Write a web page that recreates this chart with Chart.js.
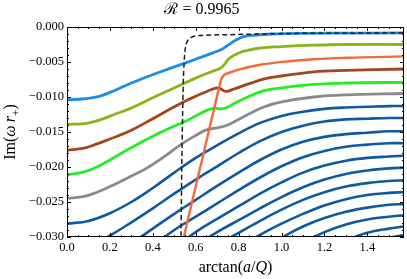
<!DOCTYPE html>
<html lang="en">
<head>
<meta charset="UTF-8">
<title>R = 0.9965</title>
<script src="https://cdn.jsdelivr.net/npm/chart.js"></script>
<style>
  html, body { margin: 0; padding: 0; background: #fff; }
</style>
</head>
<body>
<canvas id="qnm" width="407" height="279"></canvas>
<script>
// values (x = arctan(a/Q), y = Im(w r+))
const blueX = [0, 0.08, 0.15, 0.22, 0.30, 0.40, 0.50, 0.60, 0.68, 0.72, 0.75, 0.78, 0.82, 0.88, 0.95, 1.10, 1.30, 1.5708];
const blueY = [-0.0104, -0.01025, -0.0099, -0.0091, -0.0080, -0.0068, -0.0057, -0.0046, -0.0037, -0.0032, -0.0026, -0.0020, -0.0014, -0.00115, -0.0010, -0.0009, -0.00088, -0.00085];

const limeX = [0, 0.08, 0.15, 0.22, 0.29, 0.40, 0.50, 0.60, 0.68, 0.715, 0.735, 0.752, 0.775, 0.82, 0.90, 1.00, 1.15, 1.30, 1.5708];
const limeY = [-0.0139, -0.0138, -0.0133, -0.0125, -0.0117, -0.0101, -0.0087, -0.0073, -0.0063, -0.0059, -0.0053, -0.0046, -0.0041, -0.0035, -0.0030, -0.0028, -0.0026, -0.0025, -0.0025];

const orangeX = [0.538, 0.545, 0.60, 0.66, 0.70, 0.72, 0.735, 0.76, 0.80, 0.90, 1.00, 1.15, 1.30, 1.5708];
const orangeY = [-0.0310, -0.0300, -0.0228, -0.0150, -0.0098, -0.0074, -0.0068, -0.0065, -0.0061, -0.0054, -0.0050, -0.0046, -0.0044, -0.0042];

const brownX = [0, 0.08, 0.14, 0.20, 0.29, 0.40, 0.50, 0.55, 0.60, 0.66, 0.70, 0.715, 0.73, 0.745, 0.775, 0.85, 0.92, 1.00, 1.15, 1.30, 1.5708];
const brownY = [-0.0176, -0.0173, -0.0167, -0.0160, -0.0149, -0.0131, -0.0114, -0.0106, -0.0099, -0.0091, -0.0087, -0.0088, -0.0091, -0.0092, -0.0089, -0.0081, -0.0074, -0.0070, -0.0064, -0.0062, -0.0060];

const greenX = [0, 0.08, 0.14, 0.20, 0.29, 0.40, 0.49, 0.55, 0.60, 0.66, 0.69, 0.72, 0.745, 0.775, 0.85, 0.92, 1.00, 1.15, 1.30, 1.5708];
const greenY = [-0.0211, -0.0207, -0.0200, -0.0190, -0.0174, -0.0156, -0.0143, -0.0135, -0.0127, -0.0118, -0.0116, -0.0117, -0.0115, -0.0110, -0.0099, -0.0091, -0.0087, -0.0082, -0.0080, -0.0079];

const grayX = [0, 0.08, 0.14, 0.20, 0.30, 0.37, 0.45, 0.535, 0.60, 0.65, 0.70, 0.74, 0.775, 0.85, 0.92, 1.00, 1.15, 1.30, 1.5708];
const grayY = [-0.0245, -0.0242, -0.0236, -0.0228, -0.0213, -0.0202, -0.0186, -0.0167, -0.0155, -0.0147, -0.0144, -0.0141, -0.0136, -0.0124, -0.0114, -0.0107, -0.0100, -0.0097, -0.0095];

// dashed curve
const dashX = [0.531, 0.535, 0.538, 0.542, 0.546, 0.550, 0.556, 0.566, 0.585, 0.63, 0.75, 0.90, 1.10, 1.30, 1.5708];
const dashY = [-0.0310, -0.0200, -0.0140, -0.0080, -0.0050, -0.0034, -0.0024, -0.0018, -0.0014, -0.0012, -0.0011, -0.0010, -0.0009, -0.00088, -0.00085];

// higher overtones (dark blue), all on one x grid
const overtoneX = [0, 0.1, 0.2, 0.3, 0.4, 0.5, 0.6, 0.7, 0.8, 0.9, 1.0, 1.1, 1.2, 1.3, 1.4, 1.5, 1.5708];
const overtones = [
  [-0.0281, -0.0277, -0.0266, -0.0250, -0.0230, -0.0208, -0.0187, -0.0169, -0.0152, -0.0137, -0.0127, -0.0121, -0.0117, -0.0115, -0.0114, -0.0113, -0.0113],
  [-0.0320, -0.0313, -0.0298, -0.0279, -0.0259, -0.0238, -0.0218, -0.0199, -0.0180, -0.0163, -0.0150, -0.0141, -0.0135, -0.0132, -0.0131, -0.0130, -0.0130],
  [-0.0345, -0.0340, -0.0327, -0.0309, -0.0288, -0.0267, -0.0247, -0.0227, -0.0208, -0.0190, -0.0175, -0.0164, -0.0157, -0.0153, -0.0151, -0.0149, -0.0149],
  [-0.0370, -0.0366, -0.0355, -0.0336, -0.0313, -0.0290, -0.0271, -0.0252, -0.0233, -0.0215, -0.0199, -0.0186, -0.0177, -0.0171, -0.0168, -0.0166, -0.0166],
  [-0.0390, -0.0387, -0.0378, -0.0362, -0.0341, -0.0316, -0.0293, -0.0274, -0.0256, -0.0238, -0.0222, -0.0208, -0.0198, -0.0191, -0.0187, -0.0185, -0.0184],
  [-0.0410, -0.0407, -0.0399, -0.0385, -0.0365, -0.0340, -0.0313, -0.0293, -0.0276, -0.0259, -0.0243, -0.0229, -0.0218, -0.0210, -0.0205, -0.0202, -0.0201],
  [-0.0430, -0.0428, -0.0421, -0.0408, -0.0389, -0.0364, -0.0336, -0.0313, -0.0294, -0.0277, -0.0261, -0.0247, -0.0236, -0.0228, -0.0223, -0.0220, -0.0219],
  [-0.0450, -0.0448, -0.0442, -0.0430, -0.0413, -0.0390, -0.0362, -0.0336, -0.0316, -0.0297, -0.0281, -0.0267, -0.0255, -0.0246, -0.0240, -0.0237, -0.0236],
  [-0.0470, -0.0468, -0.0462, -0.0451, -0.0435, -0.0413, -0.0387, -0.0360, -0.0337, -0.0318, -0.0301, -0.0285, -0.0273, -0.0264, -0.0258, -0.0254, -0.0253],
  [-0.0490, -0.0488, -0.0482, -0.0472, -0.0457, -0.0436, -0.0411, -0.0384, -0.0360, -0.0340, -0.0323, -0.0308, -0.0293, -0.0282, -0.0275, -0.0271, -0.0269],
  [-0.0510, -0.0508, -0.0502, -0.0493, -0.0479, -0.0459, -0.0435, -0.0409, -0.0384, -0.0363, -0.0346, -0.0331, -0.0317, -0.0305, -0.0294, -0.0288, -0.0285],
  [-0.0530, -0.0528, -0.0523, -0.0514, -0.0501, -0.0482, -0.0459, -0.0433, -0.0408, -0.0386, -0.0368, -0.0352, -0.0337, -0.0324, -0.0312, -0.0302, -0.0297]
];

const FONT = "'Liberation Serif', 'DejaVu Serif', serif";

function pts(xs, ys) {
  return xs.map((x, i) => ({ x: x, y: ys[i] }));
}

function curve(xs, ys, color, width, monotone) {
  const ds = {
    data: pts(xs, ys),
    borderColor: color,
    borderWidth: width,
    pointRadius: 0,
    tension: 0.4,
    clip: 0
  };
  if (monotone) ds.cubicInterpolationMode = 'monotone';
  return ds;
}

const datasets = [];
const dashed = curve(dashX, dashY, '#1e1e1e', 1.5, true);
dashed.borderDash = [5, 3];
datasets.push(dashed);
datasets.push(curve(orangeX, orangeY, '#f26a36', 2.4, true));
datasets.push(curve(blueX, blueY, '#1c8ce8', 2.8));
datasets.push(curve(limeX, limeY, '#8cb41a', 2.8));
datasets.push(curve(brownX, brownY, '#a4461c', 2.8));
datasets.push(curve(greenX, greenY, '#22ee22', 2.8));
datasets.push(curve(grayX, grayY, '#8a8a8a', 2.8));
overtones.forEach(ys => datasets.push(curve(overtoneX, ys, '#0d5aa2', 2.6)));

// text with italic parts / subscripts
function drawRich(ctx, parts, size) {
  const fontOf = p => (p.it ? 'italic ' : '') + (p.sub ? size * 0.7 : size) + 'px ' + FONT;
  let total = 0;
  parts.forEach(p => { ctx.font = fontOf(p); p.w = ctx.measureText(p.t).width; total += p.w; });
  let x = -total / 2;
  ctx.textBaseline = 'alphabetic';
  ctx.textAlign = 'left';
  parts.forEach(p => {
    ctx.font = fontOf(p);
    ctx.fillText(p.t, x, p.sub ? size * 0.22 : 0);
    x += p.w;
  });
}

const frameTicks = {
  id: 'frameTicks',
  afterDraw(chart) {
    const { ctx, chartArea: a, scales: { x, y } } = chart;
    ctx.save();
    ctx.strokeStyle = '#000';
    ctx.lineWidth = 1;
    ctx.strokeRect(a.left + 0.5, a.top + 0.5, a.right - a.left - 1, a.bottom - a.top - 1);
    ctx.beginPath();
    for (let i = 0; i <= 31; i++) {
      const px = Math.round(x.getPixelForValue(i * 0.05)) + 0.5;
      const len = i % 4 === 0 ? 4 : 2;
      ctx.moveTo(px, a.bottom); ctx.lineTo(px, a.bottom - len);
      ctx.moveTo(px, a.top); ctx.lineTo(px, a.top + len);
    }
    for (let i = 0; i <= 30; i++) {
      const py = Math.round(y.getPixelForValue(-i * 0.001)) + 0.5;
      const len = i % 5 === 0 ? 4 : 2;
      ctx.moveTo(a.left, py); ctx.lineTo(a.left + len, py);
      ctx.moveTo(a.right, py); ctx.lineTo(a.right - len, py);
    }
    ctx.stroke();

    ctx.fillStyle = '#000';
    // x title
    ctx.save();
    ctx.translate((a.left + a.right) / 2, 272);
    drawRich(ctx, [
      { t: 'arctan(' }, { t: 'a', it: true }, { t: '/' }, { t: 'Q', it: true }, { t: ')' }
    ], 16);
    ctx.restore();
    // y title
    ctx.save();
    ctx.translate(15, (a.top + a.bottom) / 2);
    ctx.rotate(-Math.PI / 2);
    drawRich(ctx, [
      { t: 'Im(' }, { t: '\u03c9', it: true }, { t: '\u2009' }, { t: 'r', it: true }, { t: '+', sub: true }, { t: ')' }
    ], 16);
    ctx.restore();
    ctx.restore();
  }
};

new Chart(document.getElementById('qnm'), {
  type: 'line',
  data: { datasets: datasets },
  options: {
    responsive: false,
    animation: false,
    devicePixelRatio: 1,
    layout: { padding: { top: 0, right: 3, bottom: 0, left: 0 } },
    plugins: {
      legend: { display: false },
      tooltip: { enabled: false },
      title: {
        display: true,
        text: '\u211b = 0.9965',
        color: '#000',
        font: { family: FONT, size: 16, weight: 'normal' },
        padding: { top: 0, bottom: 7.8 }
      }
    },
    scales: {
      x: {
        type: 'linear',
        min: 0,
        max: Math.PI / 2,
        grid: { display: false, drawTicks: false },
        border: { display: false },
        ticks: {
          stepSize: 0.2,
          includeBounds: false,
          autoSkip: false,
          maxRotation: 0,
          padding: 3,
          color: '#000',
          font: { family: FONT, size: 12.5 },
          callback: v => v.toFixed(1)
        },
        afterFit: s => { s.height = 42; }
      },
      y: {
        type: 'linear',
        min: -0.03,
        max: 0,
        grid: { display: false, drawTicks: false },
        border: { display: false },
        ticks: {
          stepSize: 0.005,
          padding: 3,
          color: '#000',
          font: { family: FONT, size: 12.5 },
          callback: v => (Math.abs(v) < 1e-9 ? '0.000' : (v < 0 ? '\u2212' : '') + Math.abs(v).toFixed(3))
        },
        afterFit: s => { s.width = 67; }
      }
    }
  },
  plugins: [frameTicks]
});
</script>
</body>
</html>
